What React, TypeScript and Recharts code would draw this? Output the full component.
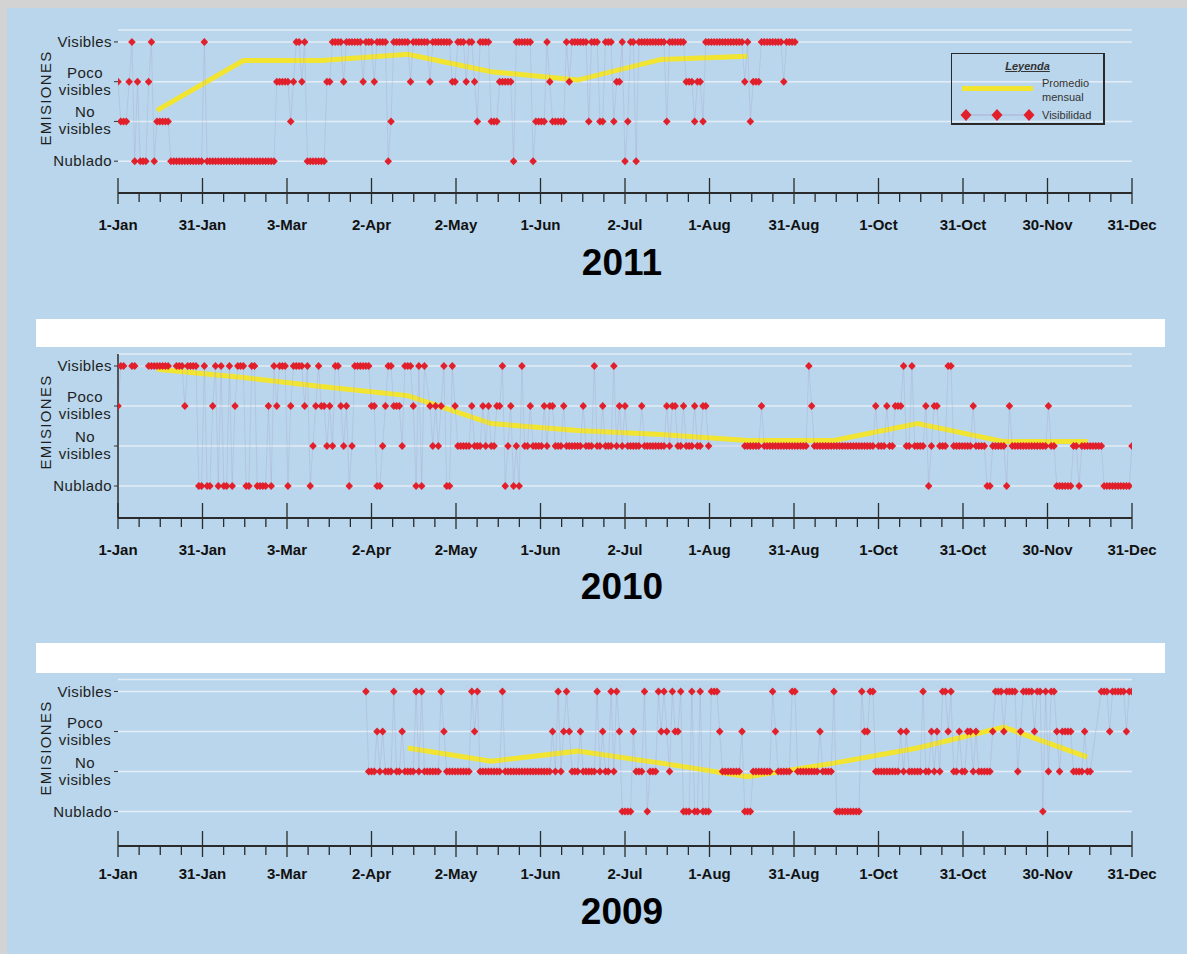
import { ComposedChart, Line, XAxis, YAxis, CartesianGrid, Legend } from 'recharts';

const FONT = '"Liberation Sans", Arial, sans-serif';

const monthLabels = ['1-Jan', '31-Jan', '3-Mar', '2-Apr', '2-May', '1-Jun', '2-Jul', '1-Aug', '31-Aug', '1-Oct', '31-Oct', '30-Nov', '31-Dec'];
const levelLabels = [['Nublado'], ['No', 'visibles'], ['Poco', 'visibles'], ['Visibles']];
// day of year (0 = 1-Jan) where each monthly average is plotted
const midMonthDays = [14, 45, 73, 104, 134, 165, 195, 226, 257, 287, 318, 348];

// daily visibility, run-length coded: V visibles, P poco visibles, N no visibles, C nublado, . sin dato
const days2011 = `P1 N3 P1 V1 C1 P1 C3 P1 V1 C1 N5 C12 V1 C25 P5 N1 P1 V2 P1 V1 C7 P2 V4 P1 V6 P1 V3 P1 V4
  C1 N1 V6 P1 V6 P1 V7 P2 V3 P1 V2 P1 N1 V4 N3 P5 C1 V6 C1 N4 V1 P1 N5 V1 P1 V6 N1 V3 N2 V3 N1
  P2 V1 C1 N1 V2 C1 V10 N1 V6 P3 N1 P2 N1 V14 P1 V1 N1 P3 V8 P1 V4 .121`;

const days2010 = `P1 V2 .2 V2 .4 V8 .2 V3 P1 V4 C2 V1 C2 P1 V1 C1 V1 C2 V1 C1 P1 V3 C2 V2 C4 P1 C1 V1 P1 V3
  C1 P1 V4 P1 V1 C1 N1 P1 V1 P2 N1 P1 N1 V2 P1 N1 P1 C1 N1 V6 P2 C2 N1 P1 V2 P3 N1 V3 P1 C1 V1
  C1 V1 .1 P1 N1 P1 N1 P1 V1 C2 V1 P1 N5 P1 N3 P1 N1 P1 N2 P2 V1 C1 N1 P1 C1 N1 C1 V1 N2 P1 N4
  P1 N1 P2 N3 P1 N6 P1 N3 V1 N2 P1 N3 V1 N1 P1 N1 P1 N5 P1 N8 P1 N1 P2 N2 P1 N3 P1 N2 P2 N1 .12
  N6 P1 N16 V1 P1 N22 P1 N3 P1 N2 P3 V1 N2 V1 N4 P1 C1 N1 P2 N3 V2 N7 P1 N4 C2 N5 C1 P1 N13 P1
  N2 C6 N2 C1 N8 C10 N1`;

const days2009 = `.89 V1 N3 P1 N1 P1 N3 V1 N2 P1 N4 V1 N1 V1 N6 V1 P1 N9 V1 P1 V1 N8 V1 N17 P1 N1 V1 N1 P1
  V1 P1 N3 P1 N5 V1 N1 P1 N2 V1 N1 V1 P1 C4 P1 N3 V1 C1 N3 V1 P1 V1 P1 N1 V1 P2 V1 C3 V1 C2 V1
  C3 V3 P1 N7 P1 C3 N7 V1 P1 N5 V2 N8 P1 N4 V1 C9 V1 P2 V2 N9 P1 N1 P1 N5 V1 N2 P1 N1 P1 N1 V2
  P1 V1 N2 P1 N2 P2 N1 P1 N5 P1 V3 P1 V4 N1 P1 V4 P1 V2 C1 V1 N1 V2 P1 N1 P4 N4 P1 N2 .3 V3 P1
  V5 P1 V2`;

// monthly averages (3 = visibles ... 0 = nublado), Jan..Dec
const avg2011 = [1.28, 2.53, 2.53, 2.69, 2.25, 2.04, 2.56, 2.64, null, null, null, null];
const avg2010 = [2.92, 2.71, 2.49, 2.26, 1.56, 1.39, 1.29, 1.14, 1.14, 1.56, 1.11, 1.11];
const avg2009 = [null, null, null, 1.59, 1.26, 1.51, 1.21, 0.87, 1.21, 1.59, 2.11, 1.36];

const LEVEL: Record<string, number> = { V: 3, P: 2, N: 1, C: 0 };
const xTicks = Array.from({ length: 49 }, (_, i) => (i * 364) / 48);

function decode(rle: string) {
  const out: (number | null)[] = [];
  rle.trim().split(/\s+/).forEach((tok) => {
    const code = tok[0];
    const n = parseInt(tok.slice(1), 10);
    for (let i = 0; i < n; i++) out.push(code === '.' ? null : LEVEL[code]);
  });
  while (out.length < 365) out.push(null);
  return out.slice(0, 365);
}

function buildRows(rle: string, avg: (number | null)[]) {
  const daily = decode(rle);
  const rows = daily.map((vis, day) => ({ day, vis, avg: null as number | null }));
  avg.forEach((v, m) => {
    if (v != null) rows[midMonthDays[m]].avg = v;
  });
  return rows;
}

const renderDiamond = (props: any) => {
  const { cx, cy, value, index } = props;
  if (value == null || cx == null || cy == null) return <g key={`d-${index}`} />;
  return (
    <polygon
      key={`d-${index}`}
      points={`${cx - 3.8},${cy} ${cx},${cy - 4} ${cx + 3.8},${cy} ${cx},${cy + 4}`}
      fill="#e1202b"
    />
  );
};

const YTick = (props: any) => {
  const { x, y, payload } = props;
  const lines = levelLabels[payload.value] || [];
  const style = { fontFamily: FONT, fontSize: 15, fill: '#1e1e1e', letterSpacing: 0.4 };
  if (lines.length === 1) {
    return (
      <text x={x} y={y + 5} textAnchor="end" style={style}>
        {lines[0]}
      </text>
    );
  }
  return (
    <g>
      <text x={x - 27} y={y - 4} textAnchor="middle" style={style}>{lines[0]}</text>
      <text x={x - 27} y={y + 13} textAnchor="middle" style={style}>{lines[1]}</text>
    </g>
  );
};

const XTick = (props: any) => {
  const { x, y, payload, labelDy } = props;
  const step = Math.round((payload.value * 48) / 364);
  if (step % 4 !== 0) {
    return <line x1={x} x2={x} y1={y} y2={y + 9} stroke="#2b2b2b" strokeWidth={1.3} />;
  }
  return (
    <g>
      <line x1={x} x2={x} y1={y - 15} y2={y + 11} stroke="#2b2b2b" strokeWidth={1.3} />
      <text
        x={x}
        y={y + labelDy}
        textAnchor="middle"
        style={{ fontFamily: FONT, fontSize: 15, fontWeight: 'bold', fill: '#111' }}
      >
        {monthLabels[step / 4]}
      </text>
    </g>
  );
};

const LegendBox = () => (
  <div
    style={{
      width: 154,
      height: 72,
      boxSizing: 'border-box',
      border: '1.5px solid #2a2a2a',
      borderRightWidth: 2,
      borderBottomWidth: 2,
      position: 'relative',
      fontFamily: FONT,
      fontSize: 11,
      color: '#333',
    }}
  >
    <div
      style={{
        position: 'absolute', left: 0, right: 0, top: 6, textAlign: 'center',
        fontWeight: 'bold', fontStyle: 'italic', textDecoration: 'underline',
      }}
    >
      Leyenda
    </div>
    <div style={{ position: 'absolute', left: 10, top: 32, width: 71, height: 5, background: '#f2e532' }} />
    <div style={{ position: 'absolute', left: 90, top: 22, lineHeight: '14px' }}>
      Promedio
      <br />
      mensual
    </div>
    <svg style={{ position: 'absolute', left: 0, top: 52 }} width={88} height={18}>
      <line x1={14} x2={78} y1={9} y2={9} stroke="#a6a2cc" strokeWidth={0.7} />
      {[14, 45, 77].map((cx) => (
        <polygon key={cx} points={`${cx - 5.5},9 ${cx},3 ${cx + 5.5},9 ${cx},15`} fill="#e1202b" />
      ))}
    </svg>
    <div style={{ position: 'absolute', left: 90, top: 54, lineHeight: '14px' }}>Visibilidad</div>
  </div>
);

interface PanelProps {
  top: number;
  height: number;
  marginTop: number;
  domain: [number, number];
  rows: { day: number; vis: number | null; avg: number | null }[];
  labelDy: number;
  showYLine?: boolean;
  legend?: boolean;
}

function Panel({ top, height, marginTop, domain, rows, labelDy, showYLine, legend }: PanelProps) {
  return (
    <div style={{ position: 'absolute', left: 0, top }}>
      <ComposedChart
        width={1187}
        height={height}
        data={rows}
        margin={{ top: marginTop, right: 55, bottom: 0, left: 0 }}
      >
        <CartesianGrid horizontal vertical={false} stroke="#e4edf5" strokeWidth={1.5} />
        <XAxis
          dataKey="day"
          type="number"
          domain={[0, 364]}
          ticks={xTicks}
          interval={0}
          height={47}
          allowDataOverflow
          axisLine={{ stroke: '#2b2b2b', strokeWidth: 2 }}
          tickLine={false}
          tickSize={0}
          tickMargin={0}
          tick={(p: any) => <XTick {...p} labelDy={labelDy} />}
        />
        <YAxis
          type="number"
          domain={domain}
          ticks={[0, 1, 2, 3]}
          interval={0}
          width={118}
          allowDataOverflow
          axisLine={showYLine ? { stroke: '#2b2b2b', strokeWidth: 1.5 } : false}
          tickLine={{ stroke: '#333' }}
          tickSize={4}
          tickMargin={2}
          tick={<YTick />}
        />
        <Line
          dataKey="avg"
          name="Promedio mensual"
          type="linear"
          stroke="#f2e532"
          strokeWidth={5}
          dot={false}
          activeDot={false}
          connectNulls
          isAnimationActive={false}
        />
        <Line
          dataKey="vis"
          name="Visibilidad"
          type="linear"
          stroke="#a6a2cc"
          strokeWidth={0.6}
          strokeOpacity={0.55}
          dot={renderDiamond}
          activeDot={false}
          connectNulls
          isAnimationActive={false}
        />
        {legend && (
          <Legend
            layout="horizontal"
            verticalAlign="middle"
            align="center"
            content={() => <LegendBox />}
            wrapperStyle={{ left: 951, top: 53, width: 154, height: 72 }}
          />
        )}
      </ComposedChart>
    </div>
  );
}

const yearStyle = {
  position: 'absolute' as const,
  left: 522,
  width: 200,
  textAlign: 'center' as const,
  fontFamily: FONT,
  fontWeight: 'bold' as const,
  fontSize: 37,
  lineHeight: '40px',
  color: '#000',
};

const axisTitleStyle = (cy: number) => ({
  position: 'absolute' as const,
  left: 46 - 60,
  top: cy - 9,
  width: 120,
  height: 18,
  lineHeight: '18px',
  textAlign: 'center' as const,
  transform: 'rotate(-90deg)',
  fontFamily: FONT,
  fontSize: 15,
  letterSpacing: 1.3,
  color: '#1e1e1e',
});

export default function App() {
  const rows2011 = buildRows(days2011, avg2011);
  const rows2010 = buildRows(days2010, avg2010);
  const rows2009 = buildRows(days2009, avg2009);

  return (
    <div
      style={{
        position: 'absolute', left: 0, top: 0, width: 1187, height: 954,
        background: '#d3d3d3', overflow: 'hidden', fontFamily: FONT,
      }}
    >
      <div style={{ position: 'absolute', left: 7, top: 8, right: 0, bottom: 0, background: '#b9d6ec' }} />
      <div style={{ position: 'absolute', left: 36, top: 319, width: 1129, height: 28, background: '#fff' }} />
      <div style={{ position: 'absolute', left: 36, top: 643, width: 1129, height: 30, background: '#fff' }} />

      <Panel top={0} height={240} marginTop={30} domain={[-0.8, 3.3]} rows={rows2011} labelDy={37} legend />
      <Panel top={320} height={245} marginTop={34} domain={[-0.8, 3.3]} rows={rows2010} labelDy={37} showYLine />
      <Panel top={640} height={253} marginTop={39.5} domain={[-0.86, 3.3]} rows={rows2009} labelDy={33} />

      <div style={axisTitleStyle(98)}>EMISIONES</div>
      <div style={axisTitleStyle(422)}>EMISIONES</div>
      <div style={axisTitleStyle(748)}>EMISIONES</div>

      <div style={{ ...yearStyle, top: 243 }}>2011</div>
      <div style={{ ...yearStyle, top: 567 }}>2010</div>
      <div style={{ ...yearStyle, top: 892 }}>2009</div>
    </div>
  );
}
